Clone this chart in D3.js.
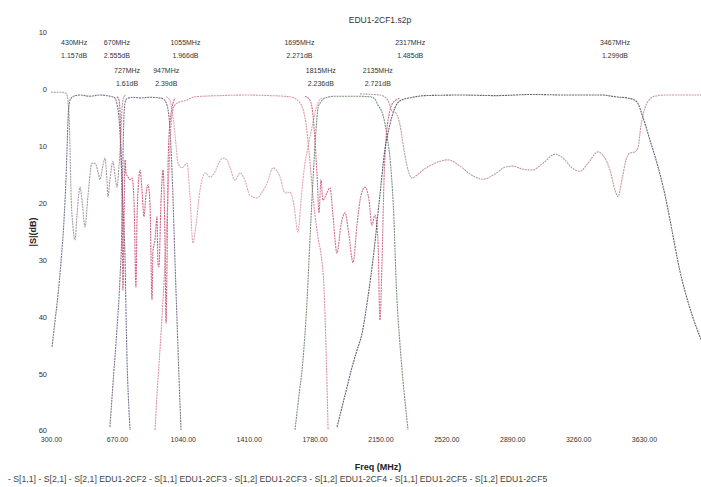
<!DOCTYPE html>
<html>
<head>
<meta charset="utf-8">
<script src="https://cdn.jsdelivr.net/npm/d3@7"></script>
<style>
  html, body { margin: 0; padding: 0; background: #ffffff; }
  svg { display: block; font-family: "Liberation Sans", Arial, sans-serif; }
</style>
</head>
<body>
<svg id="chart" width="701" height="487"></svg>
<script>
// Frequency axis ticks (MHz) and magnitude axis ticks (dB)
const freqTicks = [300, 670, 1040, 1410, 1780, 2150, 2520, 2890, 3260, 3630];
const dbTicks = [10, 0, -10, -20, -30, -40, -50, -60];
const dbTickLabels = ["10", "0", "10", "20", "30", "40", "50", "60"];

// Measured traces: [frequency MHz, magnitude dB]
const s11cf1 = [[300,-0.5],[351,-0.5],[379,-0.6],[390,-1.0],[395,-1.9],[401,-4.5],[407,-10.6],[412,-17.7],[424,-24.4],[435,-26.5],[446,-22.1],[463,-17.2],[474,-19.5],[491,-24.2],[508,-18.6],[530,-13.0],[547,-13.0],[564,-14.5],[575,-15.9],[592,-13.3],[603,-12.1],[614,-15.9],[620,-18.9],[631,-15.9],[648,-12.7],[659,-15.1],[671,-17.2],[682,-13.3],[687,-11.2],[693,-7.2],[699,-3.3],[710,-1.3],[721,-1.0]];
const s21cf1 = [[306,-45.3],[322,-40.9],[339,-36.2],[356,-30.4],[373,-23.0],[384,-15.9],[390,-10.6],[395,-5.7],[401,-2.8],[410,-1.7],[430,-1.157],[463,-1.0],[519,-1.2],[575,-1.0],[631,-1.2],[655,-1.4],[670,-2.555],[680,-4.5],[688,-8.0],[695,-13.0],[702,-19.0],[709,-24.0],[716,-30.0],[721,-38.8],[727,-47.6],[735,-54.6],[744,-59.9]];
const s21cf2 = [[631,-59.4],[648,-51.8],[670,-42.3],[687,-33.5],[699,-22.7],[704,-12.1],[710,-4.5],[716,-2.3],[727,-1.61],[760,-1.4],[800,-1.5],[856,-1.4],[912,-1.5],[935,-1.8],[947,-2.39],[957,-3.5],[968,-7.0],[979,-14.0],[990,-24.0],[996,-30.0],[1007,-40.0],[1018,-50.0],[1030,-59.9]];
const s11cf2 = [[671,-1.3],[682,-1.9],[687,-3.6],[693,-10.6],[699,-19.5],[704,-35.3],[710,-23.0],[716,-12.4],[721,-14.7],[732,-15.4],[744,-15.9],[755,-15.6],[766,-19.5],[777,-34.8],[783,-23.0],[789,-17.7],[800,-14.2],[811,-17.7],[822,-22.4],[833,-18.6],[845,-16.8],[856,-20.3],[867,-37.0],[873,-28.3],[884,-26.5],[895,-22.4],[901,-30.9],[906,-31.2],[918,-19.5],[929,-14.2],[940,-26.5],[946,-41.1],[951,-31.8],[957,-14.2],[963,-8.0],[968,-5.9],[979,-3.3],[996,-1.5]];
const s21cf3 = [[884,-59.9],[895,-53.8],[912,-45.8],[929,-37.0],[946,-26.5],[963,-14.2],[974,-6.2],[985,-3.6],[1000,-2.6],[1024,-2.2],[1055,-1.966],[1109,-1.3],[1250,-1.1],[1400,-1.0],[1530,-1.1],[1640,-1.3],[1670,-1.6],[1695,-2.271],[1715,-3.5],[1732,-6.0],[1749,-11.0],[1766,-17.0],[1782,-22.0],[1799,-26.0],[1816,-29.0],[1833,-35.0],[1844,-45.0],[1856,-59.9]];
const s11cf3 = [[946,-1.3],[968,-1.9],[979,-3.6],[991,-6.3],[1002,-9.8],[1013,-13.0],[1036,-13.8],[1052,-13.3],[1064,-13.0],[1080,-18.6],[1097,-27.0],[1114,-23.9],[1137,-17.7],[1165,-14.7],[1193,-15.4],[1221,-14.5],[1243,-12.9],[1266,-12.1],[1288,-12.4],[1305,-13.7],[1333,-16.0],[1361,-14.7],[1389,-16.0],[1417,-18.6],[1457,-19.1],[1485,-18.1],[1513,-16.5],[1547,-13.8],[1586,-15.4],[1614,-18.2],[1642,-18.1],[1664,-20.3],[1687,-25.1],[1704,-19.5],[1721,-14.2],[1743,-10.1],[1766,-6.6],[1782,-4.1],[1799,-2.4],[1822,-1.5]];
const s21cf4 = [[1670,-59.9],[1693,-53.7],[1715,-47.6],[1738,-37.0],[1754,-26.5],[1771,-16.0],[1788,-7.2],[1800,-3.2],[1815,-2.236],[1839,-1.5],[1900,-1.2],[2000,-1.2],[2091,-1.3],[2119,-1.7],[2135,-2.721],[2164,-4.5],[2186,-8.0],[2209,-14.0],[2226,-23.0],[2237,-33.0],[2260,-45.0],[2282,-53.0],[2305,-59.9]];
const s11cf4 = [[1726,-1.2],[1754,-1.9],[1771,-4.5],[1782,-8.9],[1794,-15.1],[1805,-21.7],[1816,-15.9],[1827,-19.5],[1844,-18.6],[1867,-17.3],[1883,-22.1],[1906,-28.8],[1928,-23.9],[1951,-21.7],[1973,-25.6],[1996,-30.5],[2018,-23.9],[2041,-18.6],[2063,-17.2],[2086,-19.5],[2102,-23.9],[2119,-22.1],[2136,-26.5],[2147,-40.6],[2159,-30.0],[2170,-15.9],[2181,-8.9],[2198,-4.5],[2215,-2.6],[2237,-1.9],[2260,-1.5]];
const s21cf5 = [[1906,-59.4],[1934,-55.9],[1962,-52.4],[1990,-48.9],[2018,-45.9],[2046,-43.0],[2080,-36.5],[2108,-30.0],[2147,-18.6],[2175,-10.6],[2203,-6.2],[2232,-3.2],[2260,-2.0],[2317,-1.485],[2400,-1.1],[2600,-1.0],[2800,-1.1],[3000,-0.9],[3200,-1.0],[3400,-1.0],[3467,-1.299],[3551,-1.6],[3590,-2.2],[3624,-4.9],[3663,-8.9],[3703,-13.0],[3748,-18.6],[3776,-23.0],[3832,-32.0],[3888,-38.5],[3950,-44.0]];
const s11cf5 = [[2035,-0.8],[2147,-1.0],[2192,-1.9],[2214,-3.8],[2237,-4.2],[2260,-6.3],[2282,-10.6],[2305,-14.2],[2327,-15.6],[2355,-15.1],[2389,-14.2],[2456,-13.0],[2529,-12.4],[2597,-13.5],[2653,-14.9],[2726,-15.8],[2793,-14.9],[2849,-13.7],[2894,-13.5],[2945,-14.0],[3001,-14.2],[3063,-13.0],[3130,-11.4],[3186,-12.4],[3225,-13.8],[3270,-14.4],[3315,-13.0],[3371,-11.0],[3399,-11.6],[3439,-14.2],[3467,-17.7],[3484,-18.9],[3506,-15.9],[3529,-12.4],[3551,-11.2],[3579,-11.0],[3596,-10.3],[3613,-6.3],[3635,-3.3],[3663,-1.7],[3691,-1.2],[3748,-1.0],[3950,-1.0]];

// Band-edge markers: frequency, insertion loss shown in the label, filter number
const markerFreqs = [430, 670, 727, 947, 1055, 1695, 1815, 2135, 2317, 3467];
const markerLoss = [1.157, 2.555, 1.61, 2.39, 1.966, 2.271, 2.236, 2.721, 1.485, 1.299];
const markerFilter = [1, 1, 2, 2, 3, 3, 4, 4, 5, 5];

const legendLabels = ["S[1,1]", "S[2,1]", "S[2,1] EDU1-2CF2", "S[1,1] EDU1-2CF3", "S[1,2] EDU1-2CF3", "S[1,2] EDU1-2CF4", "S[1,1] EDU1-2CF5", "S[1,2] EDU1-2CF5"];

// Trace list with stroke colours
const traces = [
  { data: s11cf1, color: "#9a8894" },
  { data: s21cf1, color: "#5c5c7c" },
  { data: s21cf2, color: "#6a5a7a" },
  { data: s11cf2, color: "#c4466c" },
  { data: s11cf3, color: "#d796a9" },
  { data: s21cf3, color: "#d58098" },
  { data: s21cf4, color: "#647c64" },
  { data: s11cf4, color: "#c9567a" },
  { data: s21cf5, color: "#48485a" },
  { data: s11cf5, color: "#b8868e" }
];

const svg = d3.select("#chart");
const W = 701, H = 487;
svg.append("rect").attr("width", W).attr("height", H).attr("fill", "#ffffff");

const x = d3.scaleLinear().domain([300, 3950]).range([51, 701]);
const y = d3.scaleLinear().domain([10, -60]).range([32.5, 430.5]);

// Plot clipping
svg.append("defs").append("clipPath").attr("id", "plotClip")
  .append("rect").attr("x", 49).attr("y", 30).attr("width", W - 49).attr("height", 402);

// Title
svg.append("text").attr("x", 380).attr("y", 23).attr("text-anchor", "middle")
  .attr("font-size", 8.5).attr("fill", "#333").text("EDU1-2CF1.s2p");

// X axis (labels only)
const xAxis = d3.axisBottom(x).tickValues(freqTicks).tickFormat(d3.format(".2f")).tickSize(0).tickPadding(0);
const gx = svg.append("g").attr("transform", "translate(0,437)").call(xAxis);
gx.select(".domain").remove();
gx.selectAll("text").attr("font-size", 7).attr("fill", "#333").attr("font-family", "Liberation Sans, Arial, sans-serif");

// Y axis (labels only)
const yAxis = d3.axisLeft(y).tickValues(dbTicks).tickFormat((d, i) => dbTickLabels[i]).tickSize(0).tickPadding(0);
const gy = svg.append("g").attr("transform", "translate(47,0)").call(yAxis);
gy.select(".domain").remove();
gy.selectAll("text").attr("font-size", 7.5).attr("fill", "#333").attr("font-family", "Liberation Sans, Arial, sans-serif");

// Axis titles
svg.append("text").attr("x", 378).attr("y", 470).attr("text-anchor", "middle")
  .attr("font-size", 9).attr("font-weight", "bold").attr("fill", "#222").text("Freq (MHz)");
svg.append("text").attr("transform", "translate(36,232) rotate(-90)").attr("text-anchor", "middle")
  .attr("font-size", 9).attr("font-weight", "bold").attr("fill", "#222").text("|S|(dB)");

// Traces, drawn as fine dotted lines
const line = d3.line().x(d => x(d[0])).y(d => y(d[1])).curve(d3.curveMonotoneX);
const plot = svg.append("g").attr("clip-path", "url(#plotClip)");
plot.selectAll("path.trace").data(traces).join("path")
  .attr("class", "trace")
  .attr("d", d => line(d.data))
  .attr("fill", "none")
  .attr("stroke", d => d.color)
  .attr("stroke-width", 1.1)
  .attr("stroke-opacity", 0.85)
  .attr("stroke-dasharray", "2 0.8")
  .attr("stroke-linejoin", "round");

// Marker labels: odd filters on the upper row, even filters on the lower row
const markers = markerFreqs.map((f, i) => ({ f, loss: markerLoss[i], filter: markerFilter[i] }));
const mg = svg.append("g").attr("font-size", 7).attr("fill", "#333").attr("text-anchor", "middle");
markers.forEach(m => {
  const base = m.filter % 2 === 1 ? 45 : 73;
  mg.append("text").attr("x", x(m.f)).attr("y", base).text(m.f + "MHz");
  mg.append("text").attr("x", x(m.f)).attr("y", base + 13).text(m.loss + "dB");
});

// Legend line
svg.append("text").attr("x", 8).attr("y", 482).attr("font-size", 8.7).attr("fill", "#444")
  .text("- " + legendLabels.join(" - "));
</script>
</body>
</html>
